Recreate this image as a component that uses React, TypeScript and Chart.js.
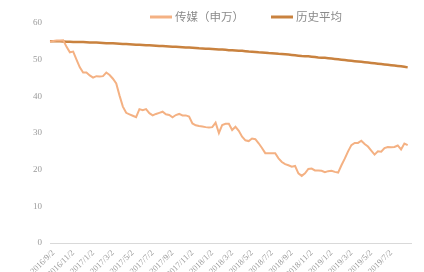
import React, { useEffect, useRef } from "react";
import { Chart, registerables } from "chart.js";

Chart.register(...registerables);

const MEDIA_LABEL = "传媒（申万）";
const AVG_LABEL = "历史平均";

// Category range: every 2nd/12th/22nd of the month
const START = { year: 2016, month: 8, day: 22 };
const END = { year: 2019, month: 9, day: 2 };
const DAYS = [2, 12, 22];

const TICK_LABELS = [
  "2016/9/2", "2016/11/2", "2017/1/2", "2017/3/2", "2017/5/2", "2017/7/2",
  "2017/9/2", "2017/11/2", "2018/1/2", "2018/3/2", "2018/5/2", "2018/7/2",
  "2018/9/2", "2018/11/2", "2019/1/2", "2019/3/2", "2019/5/2", "2019/7/2",
];

const MEDIA = [
  54.9, 55.1, 55.2, 55.2, 55.3, 53.5, 52.0, 52.2, 50.0, 47.9,
  46.5, 46.5, 45.7, 45.1, 45.5, 45.4, 45.5, 46.5, 45.8, 44.8,
  43.5, 40.2, 37.2, 35.5, 35.1, 34.7, 34.3, 36.5, 36.2, 36.5,
  35.4, 34.8, 35.2, 35.5, 35.8, 35.1, 34.9, 34.3, 34.9, 35.2,
  34.8, 34.8, 34.5, 32.6, 32.1, 31.9, 31.8, 31.6, 31.5, 31.6,
  32.8, 30.0, 32.2, 32.5, 32.5, 30.8, 31.7, 30.6, 29.0, 28.0,
  27.8, 28.5, 28.3, 27.2, 25.9, 24.5, 24.5, 24.5, 24.5, 23.1,
  22.1, 21.5, 21.2, 20.8, 21.0, 19.0, 18.3, 19.0, 20.2, 20.3,
  19.8, 19.8, 19.7, 19.3, 19.6, 19.7, 19.4, 19.2, 21.2, 23.0,
  25.0, 26.7, 27.3, 27.3, 27.9, 27.0, 26.3, 25.2, 24.1, 25.0,
  24.9, 25.9, 26.2, 26.1, 26.2, 26.6, 25.5, 27.1, 26.7, null,
];

const AVG = [
  55.0, 55.0, 55.0, 55.0, 54.95, 54.9, 54.9, 54.85, 54.85, 54.8,
  54.8, 54.75, 54.7, 54.7, 54.65, 54.6, 54.55, 54.5, 54.5, 54.45,
  54.4, 54.35, 54.3, 54.25, 54.2, 54.15, 54.1, 54.05, 54.0, 53.95,
  53.9, 53.85, 53.8, 53.75, 53.7, 53.65, 53.6, 53.55, 53.5, 53.45,
  53.4, 53.35, 53.3, 53.25, 53.2, 53.1, 53.05, 53.0, 52.95, 52.9,
  52.85, 52.8, 52.75, 52.7, 52.6, 52.55, 52.5, 52.45, 52.4, 52.3,
  52.2, 52.15, 52.1, 52.0, 51.95, 51.9, 51.8, 51.75, 51.7, 51.6,
  51.55, 51.5, 51.4, 51.3, 51.2, 51.1, 51.0, 50.95, 50.9, 50.8,
  50.7, 50.6, 50.55, 50.5, 50.4, 50.3, 50.2, 50.1, 50.0, 49.9,
  49.8, 49.7, 49.6, 49.5, 49.4, 49.3, 49.2, 49.1, 49.0, 48.9,
  48.8, 48.7, 48.6, 48.5, 48.4, 48.3, 48.2, 48.05, 47.9, null,
];

const Y_MIN = 0;
const Y_MAX = 60;
const Y_STEP = 10;

function buildCategories(): string[] {
  const out: string[] = [];
  let y = START.year;
  let m = START.month;
  while (y < END.year || (y === END.year && m <= END.month)) {
    for (const d of DAYS) {
      const before =
        y === START.year && m === START.month && d < START.day;
      const after = y === END.year && m === END.month && d > END.day;
      if (!before && !after) out.push(`${y}/${m}/${d}`);
    }
    m += 1;
    if (m > 12) {
      m = 1;
      y += 1;
    }
  }
  return out;
}

const legendPlugin = {
  id: "topLegend",
  afterDraw(chart: any) {
    const ctx = chart.ctx;
    ctx.save();
    ctx.font = '11.5px "Noto Sans CJK SC", sans-serif';
    ctx.textBaseline = "middle";
    ctx.textAlign = "left";
    let x = 150;
    const y = 17;
    chart.data.datasets.forEach((ds: any) => {
      ctx.strokeStyle = ds.borderColor;
      ctx.lineWidth = 3;
      ctx.beginPath();
      ctx.moveTo(x, y);
      ctx.lineTo(x + 22, y);
      ctx.stroke();
      x += 25;
      ctx.fillStyle = "#8a8a8a";
      ctx.fillText(ds.label, x, y);
      x += ctx.measureText(ds.label).width + 27;
    });
    ctx.restore();
  },
};

export default function App() {
  const ref = useRef<HTMLCanvasElement | null>(null);

  useEffect(() => {
    document.body.style.margin = "0";
    if (!ref.current) return;
    const labels = buildCategories();
    const chart = new Chart(ref.current, {
      type: "line",
      data: {
        labels,
        datasets: [
          {
            label: MEDIA_LABEL,
            data: MEDIA,
            borderColor: "#F4B183",
            backgroundColor: "#F4B183",
            borderWidth: 2,
            pointRadius: 0,
            tension: 0,
            fill: false,
          },
          {
            label: AVG_LABEL,
            data: AVG,
            borderColor: "#C9823F",
            backgroundColor: "#C9823F",
            borderWidth: 2.5,
            pointRadius: 0,
            tension: 0,
            fill: false,
          },
        ],
      },
      options: {
        animation: false,
        responsive: true,
        maintainAspectRatio: false,
        layout: { padding: { top: 23, right: 13, left: 0, bottom: 0 } },
        plugins: {
          legend: { display: false },
          tooltip: { enabled: false },
        },
        scales: {
          x: {
            type: "category",
            grid: { display: false, drawTicks: false },
            border: { display: true, color: "#d9d9d9", width: 1 },
            afterFit: (scale: any) => {
              scale.height = 29;
            },
            ticks: {
              autoSkip: false,
              maxRotation: 45,
              minRotation: 45,
              padding: 5,
              color: "#9a9a9a",
              font: { size: 8.5, family: "'Liberation Serif', serif" },
              callback: function (this: any, value: any) {
                const lab = this.getLabelForValue(value);
                return TICK_LABELS.includes(lab) ? lab : null;
              },
            },
          },
          y: {
            min: Y_MIN,
            max: Y_MAX,
            grid: { display: false, drawTicks: false },
            border: { display: false },
            afterFit: (scale: any) => {
              scale.width = 50;
            },
            ticks: {
              stepSize: Y_STEP,
              padding: 8,
              color: "#9a9a9a",
              font: { size: 9, family: "'Liberation Serif', serif" },
            },
          },
        },
      },
      plugins: [legendPlugin],
    });
    return () => chart.destroy();
  }, []);

  return (
    <div style={{ width: 424, height: 272, position: "relative" }}>
      <canvas ref={ref} />
    </div>
  );
}
